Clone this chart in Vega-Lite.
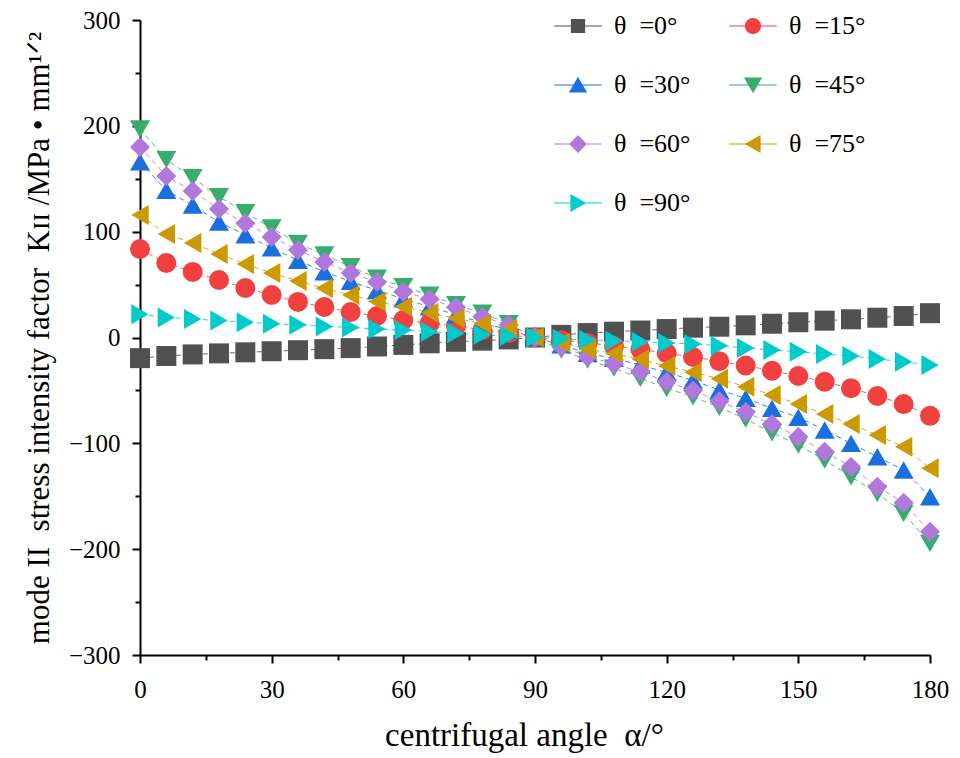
{
  "$schema": "https://vega.github.io/schema/vega-lite/v6.json",
  "width": 790,
  "height": 635,
  "autosize": {"type": "none"},
  "padding": {"left": 140, "top": 20, "right": 30, "bottom": 103},
  "background": "white",
  "config": {"view": {"stroke": null}},
  "data": {"values": [
    {"theta":"θ =0°","alpha":0,"K":-19.5},{"theta":"θ =0°","alpha":6,"K":-17.5},{"theta":"θ =0°","alpha":12,"K":-16},{"theta":"θ =0°","alpha":18,"K":-15},{"theta":"θ =0°","alpha":24,"K":-14},{"theta":"θ =0°","alpha":30,"K":-13},{"theta":"θ =0°","alpha":36,"K":-12},{"theta":"θ =0°","alpha":42,"K":-11},{"theta":"θ =0°","alpha":48,"K":-10},{"theta":"θ =0°","alpha":54,"K":-8.5},{"theta":"θ =0°","alpha":60,"K":-7},{"theta":"θ =0°","alpha":66,"K":-5.5},{"theta":"θ =0°","alpha":72,"K":-4},{"theta":"θ =0°","alpha":78,"K":-3},{"theta":"θ =0°","alpha":84,"K":-1.8},{"theta":"θ =0°","alpha":90,"K":0},{"theta":"θ =0°","alpha":96,"K":2.5},{"theta":"θ =0°","alpha":102,"K":4.2},{"theta":"θ =0°","alpha":108,"K":5.5},{"theta":"θ =0°","alpha":114,"K":6.6},{"theta":"θ =0°","alpha":120,"K":8},{"theta":"θ =0°","alpha":126,"K":9.3},{"theta":"θ =0°","alpha":132,"K":10.2},{"theta":"θ =0°","alpha":138,"K":11.5},{"theta":"θ =0°","alpha":144,"K":13},{"theta":"θ =0°","alpha":150,"K":14.4},{"theta":"θ =0°","alpha":156,"K":15.9},{"theta":"θ =0°","alpha":162,"K":17.2},{"theta":"θ =0°","alpha":168,"K":18.7},{"theta":"θ =0°","alpha":174,"K":20.3},{"theta":"θ =0°","alpha":180,"K":23},
    {"theta":"θ =15°","alpha":0,"K":83.6},{"theta":"θ =15°","alpha":6,"K":70.4},{"theta":"θ =15°","alpha":12,"K":62},{"theta":"θ =15°","alpha":18,"K":54.3},{"theta":"θ =15°","alpha":24,"K":46.8},{"theta":"θ =15°","alpha":30,"K":40.2},{"theta":"θ =15°","alpha":36,"K":33.6},{"theta":"θ =15°","alpha":42,"K":28.8},{"theta":"θ =15°","alpha":48,"K":24.1},{"theta":"θ =15°","alpha":54,"K":20.3},{"theta":"θ =15°","alpha":60,"K":16.5},{"theta":"θ =15°","alpha":66,"K":13.4},{"theta":"θ =15°","alpha":72,"K":10.9},{"theta":"θ =15°","alpha":78,"K":7.1},{"theta":"θ =15°","alpha":84,"K":4.2},{"theta":"θ =15°","alpha":90,"K":0},{"theta":"θ =15°","alpha":96,"K":-2.5},{"theta":"θ =15°","alpha":102,"K":-5},{"theta":"θ =15°","alpha":108,"K":-8},{"theta":"θ =15°","alpha":114,"K":-11.2},{"theta":"θ =15°","alpha":120,"K":-14.8},{"theta":"θ =15°","alpha":126,"K":-18.4},{"theta":"θ =15°","alpha":132,"K":-22.4},{"theta":"θ =15°","alpha":138,"K":-26.5},{"theta":"θ =15°","alpha":144,"K":-31.4},{"theta":"θ =15°","alpha":150,"K":-36.4},{"theta":"θ =15°","alpha":156,"K":-41.8},{"theta":"θ =15°","alpha":162,"K":-48},{"theta":"θ =15°","alpha":168,"K":-55.3},{"theta":"θ =15°","alpha":174,"K":-62.9},{"theta":"θ =15°","alpha":180,"K":-74},
    {"theta":"θ =30°","alpha":0,"K":166},{"theta":"θ =30°","alpha":6,"K":139},{"theta":"θ =30°","alpha":12,"K":125},{"theta":"θ =30°","alpha":18,"K":109},{"theta":"θ =30°","alpha":24,"K":97},{"theta":"θ =30°","alpha":30,"K":84.6},{"theta":"θ =30°","alpha":36,"K":73},{"theta":"θ =30°","alpha":42,"K":62},{"theta":"θ =30°","alpha":48,"K":53},{"theta":"θ =30°","alpha":54,"K":44.5},{"theta":"θ =30°","alpha":60,"K":36.5},{"theta":"θ =30°","alpha":66,"K":29},{"theta":"θ =30°","alpha":72,"K":21.5},{"theta":"θ =30°","alpha":78,"K":14},{"theta":"θ =30°","alpha":84,"K":7},{"theta":"θ =30°","alpha":90,"K":0},{"theta":"θ =30°","alpha":96,"K":-7},{"theta":"θ =30°","alpha":102,"K":-15},{"theta":"θ =30°","alpha":108,"K":-19.7},{"theta":"θ =30°","alpha":114,"K":-26},{"theta":"θ =30°","alpha":120,"K":-33},{"theta":"θ =30°","alpha":126,"K":-40.5},{"theta":"θ =30°","alpha":132,"K":-49.6},{"theta":"θ =30°","alpha":138,"K":-57.5},{"theta":"θ =30°","alpha":144,"K":-66.9},{"theta":"θ =30°","alpha":150,"K":-75.4},{"theta":"θ =30°","alpha":156,"K":-87.4},{"theta":"θ =30°","alpha":162,"K":-100},{"theta":"θ =30°","alpha":168,"K":-112.7},{"theta":"θ =30°","alpha":174,"K":-125.2},{"theta":"θ =30°","alpha":180,"K":-150.5},
    {"theta":"θ =45°","alpha":0,"K":197},{"theta":"θ =45°","alpha":6,"K":168},{"theta":"θ =45°","alpha":12,"K":151},{"theta":"θ =45°","alpha":18,"K":133},{"theta":"θ =45°","alpha":24,"K":118},{"theta":"θ =45°","alpha":30,"K":103.5},{"theta":"θ =45°","alpha":36,"K":89},{"theta":"θ =45°","alpha":42,"K":78},{"theta":"θ =45°","alpha":48,"K":67},{"theta":"θ =45°","alpha":54,"K":56},{"theta":"θ =45°","alpha":60,"K":48},{"theta":"θ =45°","alpha":66,"K":40},{"theta":"θ =45°","alpha":72,"K":31},{"theta":"θ =45°","alpha":78,"K":23},{"theta":"θ =45°","alpha":84,"K":13},{"theta":"θ =45°","alpha":90,"K":0},{"theta":"θ =45°","alpha":96,"K":-11.8},{"theta":"θ =45°","alpha":102,"K":-21.3},{"theta":"θ =45°","alpha":108,"K":-29},{"theta":"θ =45°","alpha":114,"K":-38.6},{"theta":"θ =45°","alpha":120,"K":-48},{"theta":"θ =45°","alpha":126,"K":-56},{"theta":"θ =45°","alpha":132,"K":-66},{"theta":"θ =45°","alpha":138,"K":-77},{"theta":"θ =45°","alpha":144,"K":-90},{"theta":"θ =45°","alpha":150,"K":-101.6},{"theta":"θ =45°","alpha":156,"K":-115.8},{"theta":"θ =45°","alpha":162,"K":-131.6},{"theta":"θ =45°","alpha":168,"K":-147.3},{"theta":"θ =45°","alpha":174,"K":-166.2},{"theta":"θ =45°","alpha":180,"K":-194.5},
    {"theta":"θ =60°","alpha":0,"K":180},{"theta":"θ =60°","alpha":6,"K":152.6},{"theta":"θ =60°","alpha":12,"K":138.5},{"theta":"θ =60°","alpha":18,"K":121.5},{"theta":"θ =60°","alpha":24,"K":108},{"theta":"θ =60°","alpha":30,"K":95},{"theta":"θ =60°","alpha":36,"K":82.7},{"theta":"θ =60°","alpha":42,"K":71.4},{"theta":"θ =60°","alpha":48,"K":61},{"theta":"θ =60°","alpha":54,"K":52.5},{"theta":"θ =60°","alpha":60,"K":43.3},{"theta":"θ =60°","alpha":66,"K":36.1},{"theta":"θ =60°","alpha":72,"K":28.5},{"theta":"θ =60°","alpha":78,"K":19.7},{"theta":"θ =60°","alpha":84,"K":11.8},{"theta":"θ =60°","alpha":90,"K":0},{"theta":"θ =60°","alpha":96,"K":-8.7},{"theta":"θ =60°","alpha":102,"K":-18.1},{"theta":"θ =60°","alpha":108,"K":-25},{"theta":"θ =60°","alpha":114,"K":-32.3},{"theta":"θ =60°","alpha":120,"K":-41.8},{"theta":"θ =60°","alpha":126,"K":-50},{"theta":"θ =60°","alpha":132,"K":-60.3},{"theta":"θ =60°","alpha":138,"K":-70.5},{"theta":"θ =60°","alpha":144,"K":-81.8},{"theta":"θ =60°","alpha":150,"K":-93.8},{"theta":"θ =60°","alpha":156,"K":-107.9},{"theta":"θ =60°","alpha":162,"K":-122.1},{"theta":"θ =60°","alpha":168,"K":-141},{"theta":"θ =60°","alpha":174,"K":-156.1},{"theta":"θ =60°","alpha":180,"K":-183.6},
    {"theta":"θ =75°","alpha":0,"K":115.8},{"theta":"θ =75°","alpha":6,"K":97.8},{"theta":"θ =75°","alpha":12,"K":89.3},{"theta":"θ =75°","alpha":18,"K":78.9},{"theta":"θ =75°","alpha":24,"K":69.4},{"theta":"θ =75°","alpha":30,"K":61},{"theta":"θ =75°","alpha":36,"K":53.4},{"theta":"θ =75°","alpha":42,"K":46.5},{"theta":"θ =75°","alpha":48,"K":40.2},{"theta":"θ =75°","alpha":54,"K":34},{"theta":"θ =75°","alpha":60,"K":29},{"theta":"θ =75°","alpha":66,"K":23.5},{"theta":"θ =75°","alpha":72,"K":18.1},{"theta":"θ =75°","alpha":78,"K":13},{"theta":"θ =75°","alpha":84,"K":8},{"theta":"θ =75°","alpha":90,"K":0},{"theta":"θ =75°","alpha":96,"K":-4.9},{"theta":"θ =75°","alpha":102,"K":-11},{"theta":"θ =75°","alpha":108,"K":-15},{"theta":"θ =75°","alpha":114,"K":-20.6},{"theta":"θ =75°","alpha":120,"K":-26.9},{"theta":"θ =75°","alpha":126,"K":-32.8},{"theta":"θ =75°","alpha":132,"K":-39},{"theta":"θ =75°","alpha":138,"K":-46.5},{"theta":"θ =75°","alpha":144,"K":-54.3},{"theta":"θ =75°","alpha":150,"K":-62.9},{"theta":"θ =75°","alpha":156,"K":-72.3},{"theta":"θ =75°","alpha":162,"K":-81.8},{"theta":"θ =75°","alpha":168,"K":-92.2},{"theta":"θ =75°","alpha":174,"K":-103.2},{"theta":"θ =75°","alpha":180,"K":-123.6},
    {"theta":"θ =90°","alpha":0,"K":22},{"theta":"θ =90°","alpha":6,"K":19},{"theta":"θ =90°","alpha":12,"K":17.5},{"theta":"θ =90°","alpha":18,"K":16},{"theta":"θ =90°","alpha":24,"K":14.5},{"theta":"θ =90°","alpha":30,"K":13},{"theta":"θ =90°","alpha":36,"K":12},{"theta":"θ =90°","alpha":42,"K":10.5},{"theta":"θ =90°","alpha":48,"K":9.5},{"theta":"θ =90°","alpha":54,"K":8},{"theta":"θ =90°","alpha":60,"K":7},{"theta":"θ =90°","alpha":66,"K":5.5},{"theta":"θ =90°","alpha":72,"K":4},{"theta":"θ =90°","alpha":78,"K":2.5},{"theta":"θ =90°","alpha":84,"K":1.3},{"theta":"θ =90°","alpha":90,"K":0},{"theta":"θ =90°","alpha":96,"K":-1.2},{"theta":"θ =90°","alpha":102,"K":-2.2},{"theta":"θ =90°","alpha":108,"K":-3},{"theta":"θ =90°","alpha":114,"K":-4},{"theta":"θ =90°","alpha":120,"K":-5.2},{"theta":"θ =90°","alpha":126,"K":-6.1},{"theta":"θ =90°","alpha":132,"K":-7.7},{"theta":"θ =90°","alpha":138,"K":-10},{"theta":"θ =90°","alpha":144,"K":-11.8},{"theta":"θ =90°","alpha":150,"K":-13.4},{"theta":"θ =90°","alpha":156,"K":-15.6},{"theta":"θ =90°","alpha":162,"K":-17.5},{"theta":"θ =90°","alpha":168,"K":-20.3},{"theta":"θ =90°","alpha":174,"K":-22.9},{"theta":"θ =90°","alpha":180,"K":-26}
  ]},
  "layer": [
    {
      "mark": {"type": "line", "strokeDash": [5, 4], "strokeWidth": 1, "strokeOpacity": 0.85},
      "encoding": {
        "x": {"field": "alpha", "type": "quantitative", "scale": {"domain": [0, 180], "nice": false, "zero": false},
          "axis": {"orient": "bottom", "values": [0, 30, 60, 90, 120, 150, 180], "title": "centrifugal angle\u00a0 α/°", "grid": false,
            "tickSize": 8, "tickWidth": 2, "domainWidth": 2, "domainColor": "black", "tickColor": "black",
            "labelFont": "Liberation Serif", "labelFontSize": 25, "labelColor": "black", "labelPadding": 14, "labelFlush": false,
            "titleFont": "Liberation Serif", "titleFontSize": 33, "titleFontWeight": "normal", "titleColor": "black", "titlePadding": 17, "titleX": 384}},
        "y": {"field": "K", "type": "quantitative", "scale": {"domain": [-300, 300], "nice": false, "zero": false},
          "axis": {"orient": "left", "values": [-300, -200, -100, 0, 100, 200, 300], "title": "mode II\u00a0 stress intensity factor\u00a0 Kɪɪ /MPa • mm¹ᐟ²", "grid": false,
            "tickSize": 8, "tickWidth": 2, "domainWidth": 2, "domainColor": "black", "tickColor": "black",
            "labelFont": "Liberation Serif", "labelFontSize": 25, "labelColor": "black", "labelPadding": 12, "labelFlush": false,
            "titleFont": "Liberation Serif", "titleFontSize": 31, "titleFontWeight": "normal", "titleColor": "black", "titlePadding": 13}},
        "color": {"field": "theta", "type": "nominal",
          "scale": {"domain": ["θ =0°", "θ =15°", "θ =30°", "θ =45°", "θ =60°", "θ =75°", "θ =90°"],
            "range": ["#515151", "#F14040", "#1A6FDF", "#37AD6B", "#B177DE", "#CC9900", "#00CBCC"]},
          "legend": {"orient": "none", "direction": "horizontal", "legendX": 401, "legendY": -7, "columns": 2, "title": null, "padding": 0,
            "labelFont": "Liberation Serif", "labelFontSize": 26, "labelColor": "black", "labelExpr": "replace(datum.label, ' ', '\u00a0 ')",
            "symbolSize": 196, "symbolOffset": 24, "labelOffset": 23, "rowPadding": 33, "columnPadding": 25,
            "encode": {"symbols": {"update": {
              "shape": {"signal": "['M-3.4,0H3.4M-0.93,-0.93H0.93V0.93H-0.93Z','M-3.4,0H3.4M-1.07,0A1.07,1.07,0,1,0,1.07,0A1.07,1.07,0,1,0,-1.07,0Z','M-3.4,0H3.4M0,-1L-1.15,1H1.15Z','M-3.4,0H3.4M0,1L-1.15,-1H1.15Z','M-3.4,0H3.4M0,-1.15L1.15,0L0,1.15L-1.15,0Z','M-3.4,0H3.4M-1,0L1,-1.15V1.15Z','M-3.4,0H3.4M1,0L-1,-1.15V1.15Z'][datum.index]"},
              "fill": {"scale": "color", "field": "value"},
              "stroke": {"scale": "color", "field": "value"},
              "strokeWidth": {"value": 1.2},
              "opacity": {"value": 1}
            }}}}},
        "detail": {"field": "theta"}
      }
    },
    {
      "mark": {"type": "point", "filled": true, "opacity": 1},
      "encoding": {
        "x": {"field": "alpha", "type": "quantitative",
          "axis": {"orient": "bottom", "values": [15, 45, 75, 105, 135, 165], "labels": false, "domain": false, "title": null, "grid": false, "tickSize": 5, "tickWidth": 2, "tickColor": "black"}},
        "y": {"field": "K", "type": "quantitative",
          "axis": {"orient": "left", "values": [-250, -150, -50, 50, 150, 250], "labels": false, "domain": false, "title": null, "grid": false, "tickSize": 5, "tickWidth": 2, "tickColor": "black"}},
        "color": {"field": "theta", "type": "nominal",
          "legend": {"orient": "none", "direction": "horizontal", "legendX": 401, "legendY": -7, "columns": 2, "title": null, "padding": 0,
            "labelFont": "Liberation Serif", "labelFontSize": 26, "labelColor": "black", "labelExpr": "replace(datum.label, ' ', '\u00a0 ')",
            "symbolSize": 196, "symbolOffset": 24, "labelOffset": 23, "rowPadding": 33, "columnPadding": 25,
            "encode": {"symbols": {"update": {
              "shape": {"signal": "['M-3.4,0H3.4M-0.93,-0.93H0.93V0.93H-0.93Z','M-3.4,0H3.4M-1.07,0A1.07,1.07,0,1,0,1.07,0A1.07,1.07,0,1,0,-1.07,0Z','M-3.4,0H3.4M0,-1L-1.15,1H1.15Z','M-3.4,0H3.4M0,1L-1.15,-1H1.15Z','M-3.4,0H3.4M0,-1.15L1.15,0L0,1.15L-1.15,0Z','M-3.4,0H3.4M-1,0L1,-1.15V1.15Z','M-3.4,0H3.4M1,0L-1,-1.15V1.15Z'][datum.index]"},
              "fill": {"scale": "color", "field": "value"},
              "stroke": {"scale": "color", "field": "value"},
              "strokeWidth": {"value": 1.2},
              "opacity": {"value": 1}
            }}}}},
        "shape": {"field": "theta", "type": "nominal", "legend": null,
          "scale": {"domain": ["θ =90°", "θ =75°", "θ =60°", "θ =45°", "θ =30°", "θ =15°", "θ =0°"],
            "range": ["triangle-right", "triangle-left", "diamond", "triangle-down", "triangle-up", "circle", "square"]}},
        "size": {"field": "theta", "type": "nominal", "legend": null,
          "scale": {"domain": ["θ =90°", "θ =75°", "θ =60°", "θ =45°", "θ =30°", "θ =15°", "θ =0°"],
            "range": [400, 400, 400, 400, 400, 289, 256]}}
      }
    }
  ],
  "resolve": {"axis": {"x": "independent", "y": "independent"}}
}
